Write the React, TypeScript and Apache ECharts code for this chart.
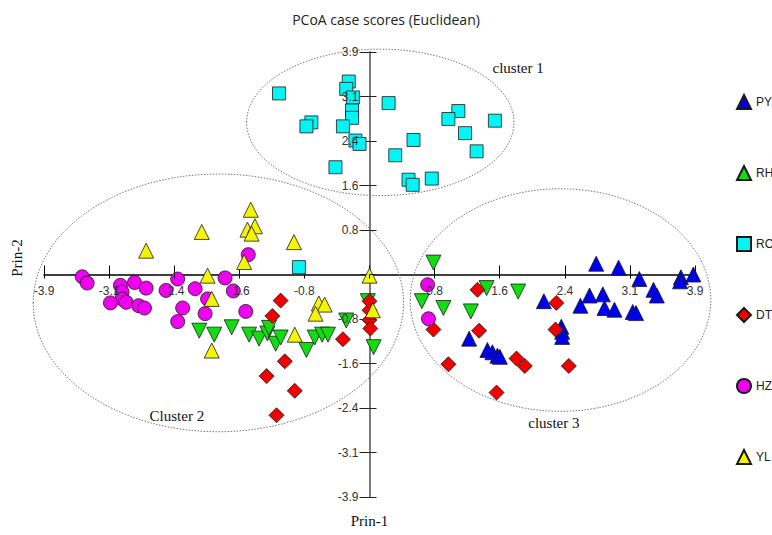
import React, { useEffect, useRef } from "react";
import * as echarts from "echarts";

const TITLE = "PCoA case scores (Euclidean)";
const X_NAME = "Prin-1";
const Y_NAME = "Prin-2";
const AXIS_MIN = -3.92;
const AXIS_MAX = 3.92;
const AXIS_STEP = 0.784;
const TICK_LABELS = ["-3.9", "-3.1", "-2.4", "-1.6", "-0.8", "", "0.8", "1.6", "2.4", "3.1", "3.9"];

const GROUPS = ["PY", "RH", "RC", "DT", "HZ", "YL"];

const PY = [
  [2.73, 0.19], [3.0, 0.12], [3.25, -0.08], [3.75, -0.05], [3.74, -0.12], [3.9, 0.0],
  [3.42, -0.27], [3.46, -0.37], [2.1, -0.47], [2.65, -0.37], [2.54, -0.55], [2.81, -0.35],
  [2.83, -0.59], [2.95, -0.62], [3.17, -0.66], [3.21, -0.68], [2.31, -0.92], [2.32, -1.01],
  [2.32, -1.1], [1.2, -1.13], [1.42, -1.33], [1.48, -1.37], [1.54, -1.43], [1.57, -1.45],
];

const RH = [
  [-2.05, -0.99], [-1.87, -1.06], [-1.66, -0.93], [-1.45, -1.06], [-1.33, -1.13], [-1.23, -1.04],
  [-1.21, -0.94], [-1.13, -1.22], [-1.07, -1.11], [-0.76, -1.33], [-0.66, -1.11], [-0.57, -1.06],
  [-0.5, -1.06], [-0.28, -0.81], [-0.02, -0.47], [0.05, -1.28], [0.77, 0.21], [0.63, -0.47],
  [0.89, -0.59], [1.41, -0.24], [1.79, -0.3], [1.22, -0.65],
];

const RC = [
  [-1.09, 3.19], [-0.25, 3.4], [-0.28, 3.27], [-0.2, 3.12], [-0.21, 2.89], [-0.21, 2.76],
  [-0.32, 2.61], [-0.7, 2.68], [-0.76, 2.61], [-0.17, 2.36], [-0.12, 2.3], [-0.41, 1.89],
  [0.23, 3.02], [0.53, 2.37], [0.31, 2.1], [0.47, 1.67], [0.52, 1.58], [0.75, 1.69],
  [1.07, 2.88], [0.95, 2.74], [1.15, 2.49], [1.29, 2.17], [1.51, 2.71], [-0.85, 0.13],
];

const DT = [
  [-1.07, -0.46], [-1.17, -0.73], [-0.32, -1.14], [-1.02, -1.53], [-1.24, -1.79], [-0.9, -2.05],
  [-1.12, -2.48], [0.0, -0.47], [0.0, -0.63], [0.0, -0.8], [0.01, -0.95], [1.3, -0.27],
  [0.77, -0.97], [1.32, -0.99], [0.95, -1.58], [1.53, -2.08], [1.77, -1.48], [1.87, -1.61],
  [2.25, -0.5], [2.24, -0.97], [2.4, -1.61],
];

const HZ = [
  [-3.46, -0.04], [-3.4, -0.15], [-3.0, -0.19], [-2.98, -0.31], [-2.98, -0.43], [-3.12, -0.5],
  [-2.93, -0.49], [-2.83, -0.14], [-2.69, -0.24], [-2.78, -0.55], [-2.71, -0.59], [-2.45, -0.28],
  [-2.31, -0.08], [-2.1, -0.25], [-1.95, -0.43], [-2.25, -0.59], [-1.98, -0.69], [-2.31, -0.83],
  [-1.74, -0.06], [-1.64, -0.29], [-1.49, -0.65], [-1.46, 0.35], [0.7, -0.18], [0.71, -0.78],
];

const YL = [
  [-2.69, 0.42], [-2.02, 0.75], [-1.43, 1.14], [-1.47, 0.79], [-1.38, 0.85], [-1.42, 0.72],
  [-0.91, 0.57], [-1.51, 0.22], [-1.95, -0.02], [-1.9, -0.43], [-1.9, -1.34], [-0.9, -1.06],
  [-0.61, -0.51], [-0.54, -0.53], [-0.65, -0.69], [0.0, -0.02], [0.04, -0.63],
];

const GROUP_DATA = [PY, RH, RC, DT, HZ, YL];

// cluster outlines in data units: centre x, centre y, radius x, radius y, label position
const CLUSTERS = [
  { label: "cluster 1", cx: 0.13, cy: 2.68, rx: 1.61, ry: 1.29, lx: 1.79, ly: 3.64 },
  { label: "Cluster 2", cx: -1.82, cy: -0.5, rx: 2.23, ry: 2.27, lx: -2.32, ly: -2.49 },
  { label: "cluster 3", cx: 2.3, cy: -0.45, rx: 1.81, ry: 1.96, lx: 2.22, ly: -2.62 },
];

const STYLE: Record<string, { symbol: string; rotate: number; size: number; color: string }> = {
  PY: { symbol: "triangle", rotate: 0, size: 15, color: "#0000f0" },
  RH: { symbol: "triangle", rotate: 180, size: 15, color: "#11dd11" },
  RC: { symbol: "rect", rotate: 0, size: 13, color: "#00f5f5" },
  DT: { symbol: "diamond", rotate: 0, size: 15, color: "#f00000" },
  HZ: { symbol: "circle", rotate: 0, size: 14, color: "#f000f0" },
  YL: { symbol: "triangle", rotate: 0, size: 15, color: "#f5f500" },
};

const W = 772;
const H = 535;
const GRID = { left: 44, right: 77, top: 52, bottom: 38 };
const GRID_W = W - GRID.left - GRID.right;
const GRID_H = H - GRID.top - GRID.bottom;

const tickFormatter = (v: number) => {
  const idx = Math.round((v - AXIS_MIN) / AXIS_STEP);
  return TICK_LABELS[idx] ?? "";
};

const LABEL_FONT = { fontSize: 12, color: "#333", fontFamily: "Liberation Sans" };

export default function App() {
  const ref = useRef<HTMLDivElement>(null);
  useEffect(() => {
    if (!ref.current) return;
    const chart = echarts.init(ref.current, undefined, { renderer: "svg" });
    const valueAxisBase = {
      type: "value" as const,
      min: AXIS_MIN,
      max: AXIS_MAX,
      interval: AXIS_STEP,
      splitLine: { show: false },
    };
    // zero lies at the centre of the symmetric range, so the label axes are offset to it
    const xZeroOffset = -GRID_H * ((0 - AXIS_MIN) / (AXIS_MAX - AXIS_MIN));
    const yZeroOffset = -GRID_W * ((0 - AXIS_MIN) / (AXIS_MAX - AXIS_MIN));
    chart.setOption({
      animation: false,
      backgroundColor: "#fff",
      title: {
        text: TITLE,
        left: "center",
        top: 7,
        textStyle: { fontSize: 14, fontWeight: "normal", fontFamily: "Open Sans", color: "#222" },
      },
      legend: {
        orient: "vertical",
        left: 736,
        top: 94,
        padding: 0,
        itemGap: 55,
        itemWidth: 14,
        itemHeight: 14,
        data: GROUPS,
        textStyle: { fontSize: 12, color: "#222", fontFamily: "Liberation Sans", overflow: "none" },
      },
      grid: { ...GRID, containLabel: false },
      xAxis: [
        {
          ...valueAxisBase,
          position: "bottom",
          axisLine: { onZero: true, onZeroAxisIndex: 0, lineStyle: { color: "#000", width: 1.5 } },
          axisTick: { show: true, inside: true, length: 9, lineStyle: { color: "#000" } },
          axisLabel: { show: false },
          z: 0,
        },
        {
          ...valueAxisBase,
          position: "bottom",
          offset: xZeroOffset,
          axisLine: { show: false, onZero: false },
          axisTick: { show: true, inside: false, length: 4, lineStyle: { color: "#000" } },
          axisLabel: { show: true, formatter: tickFormatter, margin: 10, ...LABEL_FONT },
          z: 3,
        },
      ],
      yAxis: [
        {
          ...valueAxisBase,
          position: "left",
          axisLine: { onZero: true, onZeroAxisIndex: 0, lineStyle: { color: "#7a7a7a", width: 2 } },
          axisTick: { show: true, inside: false, length: 10, lineStyle: { color: "#222" } },
          axisLabel: { show: false },
          z: 0,
        },
        {
          ...valueAxisBase,
          position: "left",
          offset: yZeroOffset,
          axisLine: { show: false, onZero: false },
          axisTick: { show: true, inside: true, length: 7, lineStyle: { color: "#222" } },
          axisLabel: { show: true, formatter: tickFormatter, margin: 11, ...LABEL_FONT },
          z: 3,
        },
      ],
      series: GROUPS.map((name, i) => ({
        type: "scatter",
        name,
        xAxisIndex: 0,
        yAxisIndex: 0,
        data: GROUP_DATA[i],
        symbol: STYLE[name].symbol,
        symbolRotate: STYLE[name].rotate,
        symbolSize: STYLE[name].size,
        itemStyle: { color: STYLE[name].color, borderColor: "#1a1a1a", borderWidth: 0.8, opacity: 1 },
        emphasis: { disabled: true },
        z: 2,
      })),
    });

    const toPx = (p: number[]) =>
      chart.convertToPixel({ xAxisIndex: 0, yAxisIndex: 0 }, p) as number[];
    const graphics: any[] = [];
    CLUSTERS.forEach((c) => {
      const ctr = toPx([c.cx, c.cy]);
      const ex = toPx([c.cx + c.rx, c.cy]);
      const ey = toPx([c.cx, c.cy + c.ry]);
      graphics.push({
        type: "ellipse",
        silent: true,
        z: 1,
        shape: { cx: ctr[0], cy: ctr[1], rx: Math.abs(ex[0] - ctr[0]), ry: Math.abs(ctr[1] - ey[1]) },
        style: { fill: "none", stroke: "#777", lineWidth: 1, lineDash: [1.5, 1.5] },
      });
      const lp = toPx([c.lx, c.ly]);
      graphics.push({
        type: "text",
        silent: true,
        z: 3,
        x: lp[0],
        y: lp[1],
        style: {
          text: c.label,
          fontSize: 15,
          fontFamily: "Liberation Serif",
          fill: "#111",
          align: "center",
          verticalAlign: "middle",
        },
      });
    });
    const origin = toPx([0, 0]);
    graphics.push({
      type: "text",
      silent: true,
      x: origin[0],
      y: 521,
      style: { text: X_NAME, fontSize: 15, fontFamily: "Liberation Serif", fill: "#111", align: "center", verticalAlign: "middle" },
    });
    graphics.push({
      type: "text",
      silent: true,
      x: 17,
      y: 258,
      rotation: Math.PI / 2,
      style: { text: Y_NAME, fontSize: 15, fontFamily: "Liberation Serif", fill: "#111", align: "center", verticalAlign: "middle" },
    });
    chart.setOption({ graphic: graphics });

    return () => chart.dispose();
  }, []);
  return <div ref={ref} style={{ position: "absolute", left: 0, top: 0, width: W, height: H }} />;
}
